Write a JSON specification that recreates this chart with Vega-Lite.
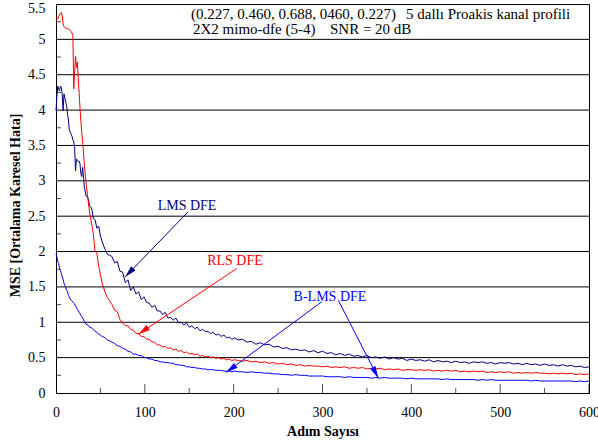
{
  "$schema": "https://vega.github.io/schema/vega-lite/v6.json",
  "width": 533,
  "height": 389,
  "autosize": "none",
  "padding": {"left": 56, "top": 4, "right": 9, "bottom": 50},
  "background": "white",
  "config": {
    "view": {"stroke": "black", "strokeWidth": 1},
    "font": "Liberation Serif"
  },
  "datasets": {
    "curves": [
      {"x":0,"LMS":3.99,"RLS":5.28,"BLMS":1.97},
      {"x":1,"LMS":4.20,"RLS":5.30,"BLMS":1.93},
      {"x":2,"LMS":4.34,"RLS":5.29,"BLMS":1.86},
      {"x":3,"LMS":4.29,"RLS":5.33,"BLMS":1.83},
      {"x":4,"LMS":4.27,"RLS":5.35,"BLMS":1.76},
      {"x":5,"LMS":4.34,"RLS":5.37,"BLMS":1.73},
      {"x":6,"LMS":4.32,"RLS":5.38,"BLMS":1.69},
      {"x":7,"LMS":4.22,"RLS":5.33,"BLMS":1.64},
      {"x":8,"LMS":3.99,"RLS":5.22,"BLMS":1.61},
      {"x":9,"LMS":4.23,"RLS":5.18,"BLMS":1.55},
      {"x":10,"LMS":4.17,"RLS":5.17,"BLMS":1.52},
      {"x":11,"LMS":4.11,"RLS":5.16,"BLMS":1.49},
      {"x":12,"LMS":4.06,"RLS":5.15,"BLMS":1.45},
      {"x":13,"LMS":3.94,"RLS":5.15,"BLMS":1.43},
      {"x":14,"LMS":3.86,"RLS":5.15,"BLMS":1.38},
      {"x":15,"LMS":3.72,"RLS":5.14,"BLMS":1.36},
      {"x":16,"LMS":3.69,"RLS":5.13,"BLMS":1.33},
      {"x":17,"LMS":3.66,"RLS":5.11,"BLMS":1.31},
      {"x":18,"LMS":3.63,"RLS":5.09,"BLMS":1.30},
      {"x":19,"LMS":3.58,"RLS":5.05,"BLMS":1.29},
      {"x":20,"LMS":3.55,"RLS":4.30,"BLMS":1.27},
      {"x":21,"LMS":3.47,"RLS":4.55,"BLMS":1.26},
      {"x":22,"LMS":3.14,"RLS":4.76,"BLMS":1.23},
      {"x":23,"LMS":3.31,"RLS":4.60,"BLMS":1.21},
      {"x":24,"LMS":3.29,"RLS":4.68,"BLMS":1.18},
      {"x":25,"LMS":3.27,"RLS":4.45,"BLMS":1.17},
      {"x":26,"LMS":3.28,"RLS":4.25,"BLMS":1.14},
      {"x":27,"LMS":3.24,"RLS":4.03,"BLMS":1.12},
      {"x":28,"LMS":3.10,"RLS":3.85,"BLMS":1.10},
      {"x":29,"LMS":3.06,"RLS":3.68,"BLMS":1.08},
      {"x":30,"LMS":3.19,"RLS":3.55,"BLMS":1.06},
      {"x":32,"LMS":2.90,"RLS":3.22,"BLMS":1.01},
      {"x":34,"LMS":2.78,"RLS":2.95,"BLMS":0.97},
      {"x":36,"LMS":2.76,"RLS":2.74,"BLMS":0.96},
      {"x":38,"LMS":2.64,"RLS":2.54,"BLMS":0.93},
      {"x":40,"LMS":2.62,"RLS":2.40,"BLMS":0.92},
      {"x":42,"LMS":2.47,"RLS":2.25,"BLMS":0.90},
      {"x":44,"LMS":2.45,"RLS":2.00,"BLMS":0.87},
      {"x":46,"LMS":2.33,"RLS":1.98,"BLMS":0.86},
      {"x":48,"LMS":2.36,"RLS":1.80,"BLMS":0.83},
      {"x":50,"LMS":2.22,"RLS":1.68,"BLMS":0.82},
      {"x":52,"LMS":2.14,"RLS":1.55,"BLMS":0.80},
      {"x":54,"LMS":2.07,"RLS":1.47,"BLMS":0.79},
      {"x":56,"LMS":2.01,"RLS":1.40,"BLMS":0.77},
      {"x":58,"LMS":1.96,"RLS":1.35,"BLMS":0.75},
      {"x":60,"LMS":1.95,"RLS":1.31,"BLMS":0.74},
      {"x":63,"LMS":1.93,"RLS":1.25,"BLMS":0.72},
      {"x":66,"LMS":1.84,"RLS":1.17,"BLMS":0.70},
      {"x":69,"LMS":1.86,"RLS":1.15,"BLMS":0.67},
      {"x":72,"LMS":1.72,"RLS":1.04,"BLMS":0.66},
      {"x":75,"LMS":1.71,"RLS":0.99,"BLMS":0.63},
      {"x":78,"LMS":1.56,"RLS":0.95,"BLMS":0.62},
      {"x":81,"LMS":1.60,"RLS":0.95,"BLMS":0.59},
      {"x":84,"LMS":1.45,"RLS":0.90,"BLMS":0.58},
      {"x":87,"LMS":1.50,"RLS":0.89,"BLMS":0.55},
      {"x":90,"LMS":1.40,"RLS":0.84,"BLMS":0.55},
      {"x":93,"LMS":1.43,"RLS":0.84,"BLMS":0.53},
      {"x":96,"LMS":1.32,"RLS":0.80,"BLMS":0.53},
      {"x":99,"LMS":1.36,"RLS":0.80,"BLMS":0.50},
      {"x":102,"LMS":1.28,"RLS":0.76,"BLMS":0.50},
      {"x":105,"LMS":1.27,"RLS":0.76,"BLMS":0.48},
      {"x":108,"LMS":1.21,"RLS":0.72,"BLMS":0.48},
      {"x":111,"LMS":1.24,"RLS":0.72,"BLMS":0.46},
      {"x":114,"LMS":1.16,"RLS":0.68,"BLMS":0.46},
      {"x":117,"LMS":1.16,"RLS":0.68,"BLMS":0.44},
      {"x":120,"LMS":1.11,"RLS":0.65,"BLMS":0.44},
      {"x":123,"LMS":1.14,"RLS":0.66,"BLMS":0.43},
      {"x":126,"LMS":1.06,"RLS":0.63,"BLMS":0.43},
      {"x":129,"LMS":1.07,"RLS":0.64,"BLMS":0.42},
      {"x":132,"LMS":1.03,"RLS":0.61,"BLMS":0.42},
      {"x":135,"LMS":1.06,"RLS":0.62,"BLMS":0.40},
      {"x":138,"LMS":0.99,"RLS":0.59,"BLMS":0.40},
      {"x":141,"LMS":1.00,"RLS":0.60,"BLMS":0.39},
      {"x":144,"LMS":0.96,"RLS":0.57,"BLMS":0.39},
      {"x":147,"LMS":0.99,"RLS":0.58,"BLMS":0.37},
      {"x":150,"LMS":0.93,"RLS":0.55,"BLMS":0.37},
      {"x":153,"LMS":0.95,"RLS":0.56,"BLMS":0.36},
      {"x":156,"LMS":0.91,"RLS":0.54,"BLMS":0.36},
      {"x":159,"LMS":0.93,"RLS":0.55,"BLMS":0.35},
      {"x":162,"LMS":0.88,"RLS":0.52,"BLMS":0.35},
      {"x":165,"LMS":0.90,"RLS":0.53,"BLMS":0.34},
      {"x":168,"LMS":0.87,"RLS":0.51,"BLMS":0.34},
      {"x":171,"LMS":0.87,"RLS":0.52,"BLMS":0.33},
      {"x":174,"LMS":0.84,"RLS":0.50,"BLMS":0.33},
      {"x":177,"LMS":0.86,"RLS":0.51,"BLMS":0.33},
      {"x":180,"LMS":0.82,"RLS":0.49,"BLMS":0.32},
      {"x":183,"LMS":0.83,"RLS":0.50,"BLMS":0.32},
      {"x":186,"LMS":0.80,"RLS":0.48,"BLMS":0.32},
      {"x":189,"LMS":0.82,"RLS":0.49,"BLMS":0.31},
      {"x":192,"LMS":0.78,"RLS":0.47,"BLMS":0.31},
      {"x":195,"LMS":0.79,"RLS":0.48,"BLMS":0.31},
      {"x":198,"LMS":0.76,"RLS":0.46,"BLMS":0.30},
      {"x":201,"LMS":0.78,"RLS":0.47,"BLMS":0.31},
      {"x":205,"LMS":0.75,"RLS":0.46,"BLMS":0.30},
      {"x":210,"LMS":0.76,"RLS":0.45,"BLMS":0.30},
      {"x":215,"LMS":0.72,"RLS":0.46,"BLMS":0.29},
      {"x":220,"LMS":0.73,"RLS":0.44,"BLMS":0.30},
      {"x":225,"LMS":0.69,"RLS":0.45,"BLMS":0.29},
      {"x":230,"LMS":0.71,"RLS":0.43,"BLMS":0.29},
      {"x":235,"LMS":0.68,"RLS":0.44,"BLMS":0.28},
      {"x":240,"LMS":0.69,"RLS":0.42,"BLMS":0.28},
      {"x":245,"LMS":0.65,"RLS":0.43,"BLMS":0.27},
      {"x":250,"LMS":0.66,"RLS":0.41,"BLMS":0.27},
      {"x":255,"LMS":0.63,"RLS":0.42,"BLMS":0.26},
      {"x":260,"LMS":0.64,"RLS":0.40,"BLMS":0.26},
      {"x":265,"LMS":0.61,"RLS":0.41,"BLMS":0.25},
      {"x":270,"LMS":0.62,"RLS":0.39,"BLMS":0.26},
      {"x":275,"LMS":0.60,"RLS":0.40,"BLMS":0.25},
      {"x":280,"LMS":0.61,"RLS":0.38,"BLMS":0.25},
      {"x":285,"LMS":0.58,"RLS":0.39,"BLMS":0.24},
      {"x":290,"LMS":0.60,"RLS":0.38,"BLMS":0.24},
      {"x":295,"LMS":0.57,"RLS":0.38,"BLMS":0.24},
      {"x":300,"LMS":0.59,"RLS":0.37,"BLMS":0.24},
      {"x":305,"LMS":0.56,"RLS":0.38,"BLMS":0.23},
      {"x":310,"LMS":0.57,"RLS":0.36,"BLMS":0.23},
      {"x":315,"LMS":0.54,"RLS":0.37,"BLMS":0.23},
      {"x":320,"LMS":0.56,"RLS":0.36,"BLMS":0.23},
      {"x":325,"LMS":0.53,"RLS":0.37,"BLMS":0.22},
      {"x":330,"LMS":0.55,"RLS":0.35,"BLMS":0.23},
      {"x":335,"LMS":0.52,"RLS":0.36,"BLMS":0.22},
      {"x":340,"LMS":0.53,"RLS":0.35,"BLMS":0.22},
      {"x":345,"LMS":0.51,"RLS":0.36,"BLMS":0.22},
      {"x":350,"LMS":0.53,"RLS":0.34,"BLMS":0.22},
      {"x":355,"LMS":0.50,"RLS":0.35,"BLMS":0.21},
      {"x":360,"LMS":0.51,"RLS":0.34,"BLMS":0.22},
      {"x":365,"LMS":0.49,"RLS":0.35,"BLMS":0.21},
      {"x":370,"LMS":0.51,"RLS":0.33,"BLMS":0.22},
      {"x":375,"LMS":0.48,"RLS":0.34,"BLMS":0.21},
      {"x":380,"LMS":0.50,"RLS":0.33,"BLMS":0.21},
      {"x":385,"LMS":0.48,"RLS":0.34,"BLMS":0.21},
      {"x":390,"LMS":0.49,"RLS":0.32,"BLMS":0.21},
      {"x":395,"LMS":0.46,"RLS":0.33,"BLMS":0.20},
      {"x":400,"LMS":0.48,"RLS":0.33,"BLMS":0.21},
      {"x":405,"LMS":0.46,"RLS":0.32,"BLMS":0.20},
      {"x":410,"LMS":0.47,"RLS":0.33,"BLMS":0.20},
      {"x":415,"LMS":0.45,"RLS":0.32,"BLMS":0.20},
      {"x":420,"LMS":0.47,"RLS":0.33,"BLMS":0.20},
      {"x":425,"LMS":0.44,"RLS":0.31,"BLMS":0.20},
      {"x":430,"LMS":0.46,"RLS":0.32,"BLMS":0.20},
      {"x":435,"LMS":0.44,"RLS":0.31,"BLMS":0.19},
      {"x":440,"LMS":0.45,"RLS":0.32,"BLMS":0.20},
      {"x":445,"LMS":0.43,"RLS":0.31,"BLMS":0.19},
      {"x":450,"LMS":0.45,"RLS":0.32,"BLMS":0.19},
      {"x":455,"LMS":0.43,"RLS":0.30,"BLMS":0.19},
      {"x":460,"LMS":0.44,"RLS":0.31,"BLMS":0.19},
      {"x":465,"LMS":0.42,"RLS":0.30,"BLMS":0.19},
      {"x":470,"LMS":0.44,"RLS":0.31,"BLMS":0.19},
      {"x":475,"LMS":0.43,"RLS":0.30,"BLMS":0.18},
      {"x":480,"LMS":0.44,"RLS":0.31,"BLMS":0.19},
      {"x":485,"LMS":0.42,"RLS":0.29,"BLMS":0.18},
      {"x":490,"LMS":0.43,"RLS":0.30,"BLMS":0.19},
      {"x":495,"LMS":0.41,"RLS":0.29,"BLMS":0.18},
      {"x":500,"LMS":0.43,"RLS":0.30,"BLMS":0.18},
      {"x":505,"LMS":0.42,"RLS":0.29,"BLMS":0.18},
      {"x":510,"LMS":0.43,"RLS":0.30,"BLMS":0.18},
      {"x":515,"LMS":0.41,"RLS":0.28,"BLMS":0.18},
      {"x":520,"LMS":0.42,"RLS":0.29,"BLMS":0.18},
      {"x":525,"LMS":0.40,"RLS":0.28,"BLMS":0.18},
      {"x":530,"LMS":0.42,"RLS":0.29,"BLMS":0.18},
      {"x":535,"LMS":0.40,"RLS":0.28,"BLMS":0.17},
      {"x":540,"LMS":0.41,"RLS":0.29,"BLMS":0.18},
      {"x":545,"LMS":0.39,"RLS":0.28,"BLMS":0.17},
      {"x":550,"LMS":0.41,"RLS":0.28,"BLMS":0.17},
      {"x":555,"LMS":0.39,"RLS":0.27,"BLMS":0.17},
      {"x":560,"LMS":0.40,"RLS":0.28,"BLMS":0.17},
      {"x":565,"LMS":0.38,"RLS":0.27,"BLMS":0.17},
      {"x":570,"LMS":0.40,"RLS":0.28,"BLMS":0.17},
      {"x":575,"LMS":0.38,"RLS":0.27,"BLMS":0.17},
      {"x":580,"LMS":0.39,"RLS":0.28,"BLMS":0.17},
      {"x":585,"LMS":0.37,"RLS":0.26,"BLMS":0.16},
      {"x":590,"LMS":0.38,"RLS":0.27,"BLMS":0.17},
      {"x":595,"LMS":0.36,"RLS":0.26,"BLMS":0.16},
      {"x":600,"LMS":0.37,"RLS":0.27,"BLMS":0.17}
    ],
    "one": [{}],
    "ygrid": [{"v":0.5},{"v":1},{"v":1.5},{"v":2},{"v":2.5},{"v":3},{"v":3.5},{"v":4},{"v":4.5},{"v":5}],
    "yminor": [{"v":0.25},{"v":0.75},{"v":1.25},{"v":1.75},{"v":2.25},{"v":2.75},{"v":3.25},{"v":3.75},{"v":4.25},{"v":4.75},{"v":5.25}],
    "xmajor": [{"x":100},{"x":200},{"x":300},{"x":400},{"x":500},{"x":600}],
    "xminor": [{"x":50},{"x":150},{"x":250},{"x":350},{"x":450},{"x":550}]
  },
  "layer": [
    {"data": {"name": "ygrid"},
     "mark": {"type": "rule", "color": "black", "strokeWidth": 1},
     "encoding": {"y": {"field": "v", "type": "quantitative"}}},
    {
      "data": {"name": "curves"},
      "transform": [{"fold": ["LMS", "RLS", "BLMS"], "as": ["s", "v"]}],
      "mark": {"type": "line", "strokeWidth": 1},
      "encoding": {
        "x": {
          "field": "x", "type": "quantitative",
          "scale": {"domain": [0, 600], "nice": false, "zero": false},
          "axis": {
            "title": "Adım Sayısı",
            "values": [0,100,200,300,400,500,600],
            "tickCount": 40,
            "format": "d",
            "grid": false,
            "ticks": false,
            "tickSize": 0,
            "domainColor": "black",
            "labelFont": "Liberation Serif",
            "labelFontSize": 14,
            "labelColor": "black",
            "labelPadding": 12,
            "labelFlush": false,
            "labelOverlap": false,
            "titleFont": "Liberation Serif",
            "titleFontSize": 14,
            "titleFontWeight": "bold",
            "titleColor": "black",
            "titleY": 38,
            "titleBaseline": "middle"
          }
        },
        "y": {
          "field": "v", "type": "quantitative",
          "scale": {"domain": [0, 5.5], "nice": false},
          "axis": {
            "title": "MSE [Ortalama Karesel Hata]",
            "values": [0,0.5,1,1.5,2,2.5,3,3.5,4,4.5,5,5.5],
            "tickCount": 40,
            "format": "~g",
            "ticks": false,
            "tickSize": 0,
            "grid": false,
            "domainColor": "black",
            "labelFont": "Liberation Serif",
            "labelFontSize": 14,
            "labelColor": "black",
            "labelPadding": 11,
            "labelFlush": false,
            "labelOverlap": false,
            "labelOffset": {"condition": {"test": "datum.value === 5.5", "value": 4}, "value": 0},
            "titleFont": "Liberation Serif",
            "titleFontSize": 14,
            "titleFontWeight": "bold",
            "titleColor": "black",
            "titleX": -41,
            "titleY": 201,
            "titleAngle": -90,
            "titleAlign": "center",
            "titleBaseline": "middle"
          }
        },
        "color": {
          "field": "s", "type": "nominal",
          "scale": {"domain": ["LMS", "RLS", "BLMS"], "range": ["#000080", "#ff0000", "#0000ff"]},
          "legend": null
        }
      }
    },
    {"data": {"name": "yminor"},
     "mark": {"type": "tick", "orient": "horizontal", "size": 10, "thickness": 1, "color": "black", "clip": true},
     "encoding": {"y": {"field": "v", "type": "quantitative"}, "x": {"datum": 0}}},
    {"data": {"name": "xmajor"},
     "mark": {"type": "tick", "orient": "vertical", "size": 18, "thickness": 1, "color": "black", "clip": true},
     "encoding": {"x": {"field": "x", "type": "quantitative"}, "y": {"datum": 0}}},
    {"data": {"name": "xminor"},
     "mark": {"type": "tick", "orient": "vertical", "size": 10, "thickness": 1, "color": "black", "clip": true},
     "encoding": {"x": {"field": "x", "type": "quantitative"}, "y": {"datum": 0}}},
    {"data": {"name": "one"}, "mark": {"type": "rule", "color": "#000080", "strokeWidth": 1},
     "encoding": {"x": {"datum": 148.6}, "y": {"datum": 2.56}, "x2": {"datum": 77.7}, "y2": {"datum": 1.64}}},
    {"data": {"name": "one"}, "mark": {"type": "rule", "color": "#ff0000", "strokeWidth": 1},
     "encoding": {"x": {"datum": 203.4}, "y": {"datum": 1.76}, "x2": {"datum": 92.6}, "y2": {"datum": 0.83}}},
    {"data": {"name": "one"}, "mark": {"type": "rule", "color": "#0000ff", "strokeWidth": 1},
     "encoding": {"x": {"datum": 299.1}, "y": {"datum": 1.29}, "x2": {"datum": 191.4}, "y2": {"datum": 0.29}}},
    {"data": {"name": "one"}, "mark": {"type": "rule", "color": "#0000ff", "strokeWidth": 1},
     "encoding": {"x": {"datum": 317.8}, "y": {"datum": 1.31}, "x2": {"datum": 362.8}, "y2": {"datum": 0.21}}},
    {"data": {"name": "one"}, "mark": {"type": "point", "shape": "M0,0L-0.4,1.6L0.4,1.6Z", "filled": true, "opacity": 1, "size": 225, "angle": 224, "color": "#000080"},
     "encoding": {"x": {"datum": 77.7}, "y": {"datum": 1.64}}},
    {"data": {"name": "one"}, "mark": {"type": "point", "shape": "M0,0L-0.4,1.6L0.4,1.6Z", "filled": true, "opacity": 1, "size": 225, "angle": 236, "color": "#ff0000"},
     "encoding": {"x": {"datum": 92.6}, "y": {"datum": 0.83}}},
    {"data": {"name": "one"}, "mark": {"type": "point", "shape": "M0,0L-0.4,1.6L0.4,1.6Z", "filled": true, "opacity": 1, "size": 225, "angle": 234, "color": "#0000ff"},
     "encoding": {"x": {"datum": 191.4}, "y": {"datum": 0.29}}},
    {"data": {"name": "one"}, "mark": {"type": "point", "shape": "M0,0L-0.4,1.6L0.4,1.6Z", "filled": true, "opacity": 1, "size": 225, "angle": 153, "color": "#0000ff"},
     "encoding": {"x": {"datum": 362.8}, "y": {"datum": 0.21}}},
    {"data": {"name": "one"}, "mark": {"type": "text", "align": "center", "baseline": "middle", "font": "Liberation Serif", "fontSize": 14, "color": "#000080", "text": "LMS DFE"},
     "encoding": {"x": {"datum": 147.5}, "y": {"datum": 2.64}}},
    {"data": {"name": "one"}, "mark": {"type": "text", "align": "center", "baseline": "middle", "font": "Liberation Serif", "fontSize": 14, "color": "#ff0000", "text": "RLS DFE"},
     "encoding": {"x": {"datum": 201.5}, "y": {"datum": 1.87}}},
    {"data": {"name": "one"}, "mark": {"type": "text", "align": "center", "baseline": "middle", "font": "Liberation Serif", "fontSize": 14, "color": "#0000ff", "text": "B-LMS DFE"},
     "encoding": {"x": {"datum": 308.4}, "y": {"datum": 1.36}}},
    {"data": {"name": "one"}, "mark": {"type": "text", "align": "left", "baseline": "middle", "font": "Liberation Serif", "fontSize": 15, "color": "black", "text": "(0.227, 0.460, 0.688, 0460, 0.227)"},
     "encoding": {"x": {"datum": 152}, "y": {"datum": 5.36}}},
    {"data": {"name": "one"}, "mark": {"type": "text", "align": "left", "baseline": "middle", "font": "Liberation Serif", "fontSize": 15, "color": "black", "text": "5 dallı Proakis kanal profili"},
     "encoding": {"x": {"datum": 394}, "y": {"datum": 5.36}}},
    {"data": {"name": "one"}, "mark": {"type": "text", "align": "left", "baseline": "middle", "font": "Liberation Serif", "fontSize": 15, "color": "black", "text": "2X2 mimo-dfe (5-4)"},
     "encoding": {"x": {"datum": 154.2}, "y": {"datum": 5.15}}},
    {"data": {"name": "one"}, "mark": {"type": "text", "align": "left", "baseline": "middle", "font": "Liberation Serif", "fontSize": 15, "color": "black", "text": "SNR = 20 dB"},
     "encoding": {"x": {"datum": 308.4}, "y": {"datum": 5.15}}}
  ]
}
